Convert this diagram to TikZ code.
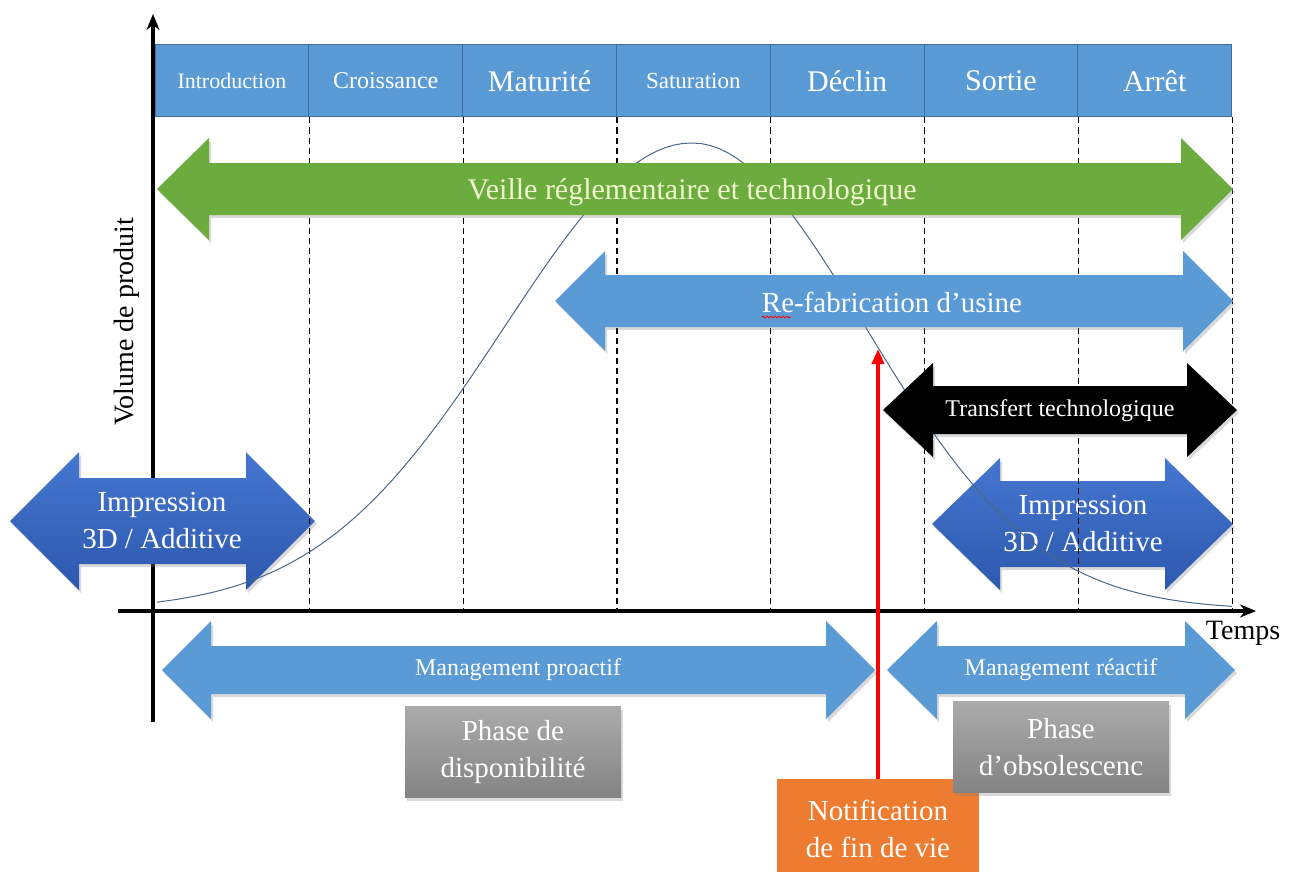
\documentclass[tikz,border=0pt]{standalone}
\usepackage{fontspec}
\setmainfont{Liberation Serif}
\usetikzlibrary{arrows.meta,shadows,decorations.pathmorphing}
\definecolor{hdrblue}{HTML}{5B9BD5}
\definecolor{hdrline}{HTML}{3F6E9E}
\definecolor{veillegreen}{HTML}{6CAC3F}
\definecolor{veilletext}{HTML}{EEF6CC}
\definecolor{impblue}{HTML}{4677D0}
\definecolor{impdark}{HTML}{2D58AE}
\definecolor{curveblue}{HTML}{4A6788}
\definecolor{notiforange}{HTML}{EE7C30}
\definecolor{boxgrey}{HTML}{ABABAB}
\definecolor{boxgreydark}{HTML}{838383}
\newcommand{\txtsize}[2]{\fontsize{#1pt}{#2pt}\selectfont}
% double arrow: style, left x, right x, centre y, half shaft, half head, head length
\newcommand{\dblarrow}[7]{\path[#1] (#2,#4) -- ({#2+#7},{#4-#6}) -- ({#2+#7},{#4-#5})
  -- ({#3-#7},{#4-#5}) -- ({#3-#7},{#4-#6}) -- (#3,#4) -- ({#3-#7},{#4+#6})
  -- ({#3-#7},{#4+#5}) -- ({#2+#7},{#4+#5}) -- ({#2+#7},{#4+#6}) -- cycle;}
\tikzstyle{every node}=[inner sep=0pt]
\tikzstyle{hdr}=[draw=hdrline,fill=hdrblue,line width=1pt,text=white,minimum width=153.8pt,minimum height=72pt]
\tikzstyle{guide}=[black,line width=1.2pt,dash pattern=on 6pt off 4pt]
\tikzstyle{axis}=[line width=3.5pt,-{Stealth[length=16pt,width=13pt]}]
\tikzstyle{lbl}=[text=white,align=center]
\tikzstyle{big}=[font=\txtsize{29}{37}]
\tikzstyle{small}=[font=\txtsize{24}{28}]
\tikzstyle{shade}=[drop shadow={opacity=0.3,shadow xshift=2pt,shadow yshift=-3pt}]
\tikzstyle{greybox}=[top color=boxgrey,bottom color=boxgreydark,minimum width=216pt,minimum height=91pt,shade,lbl,big]

\begin{document}
\begin{tikzpicture}[x=1pt,y=-1pt]
\useasboundingbox (0,0) rectangle (1292,872);
% axes
\draw[axis] (153,722) -- (153,14);
\draw[axis] (118,611) -- (1256,611);
\node (temps) [font=\txtsize{28}{34}] at (1243,633) {Temps};
\node (volume) [rotate=90,font=\txtsize{28}{34}] at (127,322) {Volume de produit};
% phases
\foreach \i/\lab/\s in {1/Introduction/22,2/Croissance/24,3/Maturité/30,4/Saturation/23,5/Déclin/30,6/Sortie/30,7/Arrêt/30}
  \node (ph\i) [hdr,font=\txtsize{\s}{\s}] at ({155+153.8*(\i-0.5)},81) {\lab};
% impression 3D
\dblarrow{top color=impblue,bottom color=impdark,shade}{10}{315}{521}{43}{69}{69}
\node (imp1) [lbl,big] at (162,521) {Impression\\3D / Additive};
\dblarrow{top color=impblue,bottom color=impdark,shade}{932}{1233}{524}{43}{66}{68}
\node (imp2) [lbl,big] at (1083,524) {Impression\\3D / Additive};
\foreach \i in {1,...,7}
  \draw[guide] (ph\i.south east) -- ++(0,494);
% life curve
\draw[curveblue,line width=1pt] plot[domain=157:692,samples=60] (\x,{610-467*exp(-((\x-692)/265)*((\x-692)/265))})
  -- plot[domain=692:1232,samples=60] (\x,{610-467*exp(-((\x-692)/245)*((\x-692)/245))});
% strategies
\dblarrow{fill=veillegreen,shade}{157}{1233}{189}{26}{51}{52}
\node (veille) [text=veilletext,font=\txtsize{30}{36}] at (692,192) {Veille réglementaire et technologique};
\dblarrow{fill=hdrblue,shade}{555}{1233}{301}{26}{50}{50}
\node (refab) [lbl,big] at (892,302) {Re-fabrication d’usine};
\draw[red,line width=0.8pt,decorate,decoration={snake,amplitude=1pt,segment length=4pt}] ([yshift=-5pt]refab.base west) -- ++(29,0);
\dblarrow{fill=black,shade}{883}{1237}{410}{24}{47}{50}
\node (transfert) [lbl,small] at (1060,411) {Transfert technologique};
% management
\dblarrow{fill=hdrblue,shade}{162}{875}{670}{24}{49}{49}
\node (proactif) [lbl,small] at (518,670) {Management proactif};
\dblarrow{fill=hdrblue,shade}{887}{1235}{670}{24}{49}{50}
\node (reactif) [lbl,small] at (1061,670) {Management réactif};
% notification
\node (notif) [fill=notiforange,minimum width=202pt,minimum height=100pt,lbl,big] at (878,829) {Notification\\de fin de vie};
\coordinate (eol) at (878,349);
\draw[red,line width=4.5pt,-{Triangle[length=15pt,width=12pt]}] (notif.north) -- (eol);
% phases
\node (dispo) [greybox] at (513,752) {Phase de\\disponibilité};
\node (obso) [greybox] at (1061,747) {Phase\\d’obsolescenc};
\end{tikzpicture}
\end{document}
